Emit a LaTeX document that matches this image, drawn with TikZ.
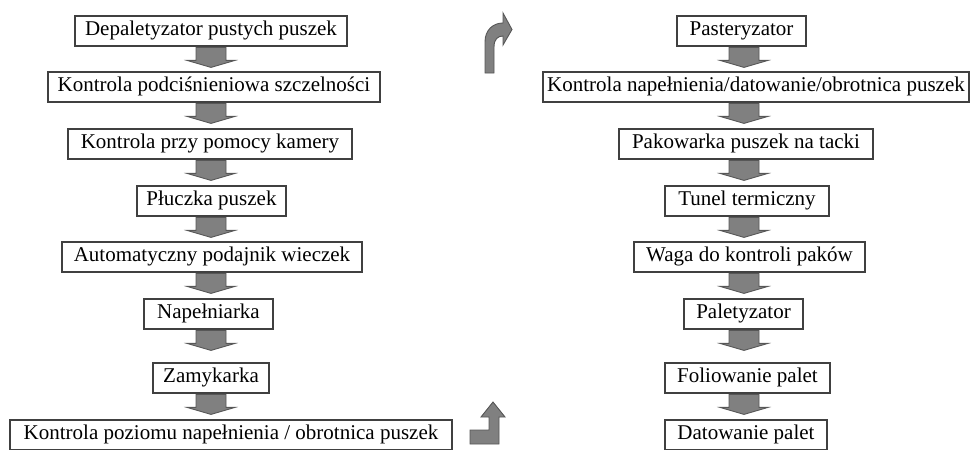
\documentclass[tikz,border=0pt]{standalone}
\usepackage{fontspec}
\setmainfont{Liberation Serif}
\definecolor{boxline}{HTML}{404040}
\definecolor{arrfill}{HTML}{808080}
\definecolor{arrline}{HTML}{575757}
\tikzset{
  box/.style={draw=boxline, line width=1.4pt, fill=white, minimum height=30pt,
    inner sep=0pt, font=\fontsize{21}{25}\selectfont, text height=14.5pt, text depth=5pt},
  blockarr/.style={fill=arrfill, draw=arrline, line width=0.9pt, line join=miter},
  pics/blockdown/.style={code={
    \filldraw[blockarr] (-15,0) -- (15,0) -- (15,13) -- (24,13) -- (0,20) -- (-24,13) -- (-15,13) -- cycle;}}
}
\begin{document}
\begin{tikzpicture}[x=1pt, y=-1pt]
\useasboundingbox (0,0) rectangle (970,450);
\coordinate (lcol) at (211,0);
\coordinate (rcol) at (744,0);
% left column
\node[box, minimum width=272pt] (L1) at (211,31)   {Depaletyzator pustych puszek};
\node[box, minimum width=332pt] (L2) at (214,87)   {Kontrola podciśnieniowa szczelności};
\node[box, minimum width=284pt] (L3) at (210,144)  {Kontrola przy pomocy kamery};
\node[box, minimum width=149pt] (L4) at (211.5,201){Płuczka puszek};
\node[box, minimum width=300pt] (L5) at (212,257)  {Automatyczny podajnik wieczek};
\node[box, minimum width=129pt] (L6) at (208.5,314){Napełniarka};
\node[box, minimum width=116pt] (L7) at (211,378)  {Zamykarka};
\node[box, minimum width=442pt] (L8) at (231,435)  {Kontrola poziomu napełnienia / obrotnica puszek};
% right column
\node[box, minimum width=129pt] (R1) at (741.5,31) {Pasteryzator};
\node[box, minimum width=426pt] (R2) at (756,87)   {Kontrola napełnienia/datowanie/obrotnica puszek};
\node[box, minimum width=254pt] (R3) at (746,144)  {Pakowarka puszek na tacki};
\node[box, minimum width=164pt] (R4) at (747,201)  {Tunel termiczny};
\node[box, minimum width=231pt] (R5) at (749.5,257){Waga do kontroli paków};
\node[box, minimum width=119pt] (R6) at (743.5,314){Paletyzator};
\node[box, minimum width=165pt] (R7) at (747.5,378){Foliowanie palet};
\node[box, minimum width=162pt] (R8) at (746,435)  {Datowanie palet};
% block arrows
\foreach \a in {L1,L2,L3,L4,L5,L6,L7}{
  \pic at ([yshift=-0.7pt]\a.south -| lcol) {blockdown};
}
\foreach \a in {R1,R2,R3,R4,R5,R6,R7}{
  \pic at ([yshift=-0.7pt]\a.south -| rcol) {blockdown};
}
% bent arrow at the bottom (turn right then up)
\filldraw[blockarr] (470,430) -- (489,430) -- (489,417) -- (481,417) -- (493,402)
  -- (505,417) -- (499,417) -- (499,444) -- (470,444) -- cycle;
% curved arrow at the top (up then right)
\filldraw[blockarr] (485,73) -- (485,42) .. controls (485,30) and (493,23) .. (503,23)
  -- (503,13) -- (512,29.5) -- (503,45) -- (503,36)
  .. controls (498,36) and (494,39) .. (494,47) -- (494,73) -- cycle;
\end{tikzpicture}
\end{document}
